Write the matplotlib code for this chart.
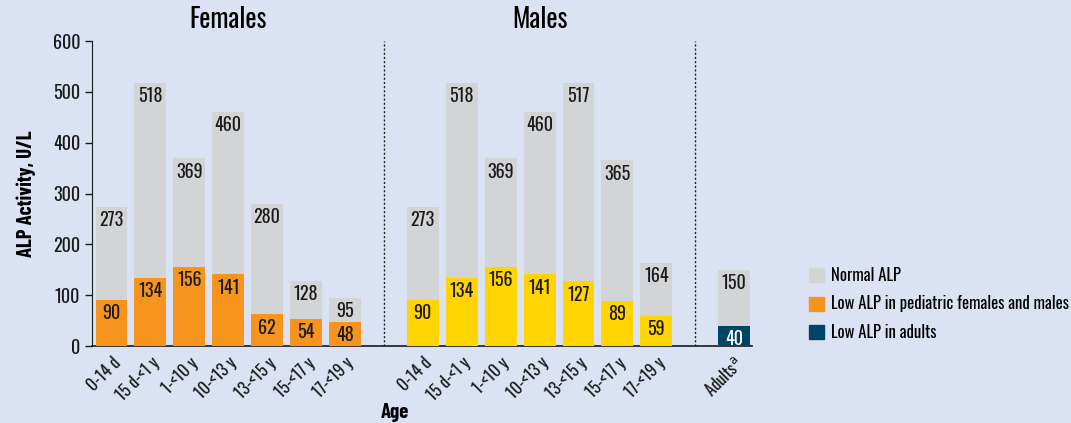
import matplotlib

matplotlib.use("Agg")
import matplotlib.pyplot as plt
from matplotlib.patches import Patch

plt.rcParams["font.family"] = ["Oswald", "Barlow Condensed", "DejaVu Sans"]
BOLD = ["Barlow Condensed", "Fira Sans Extra Condensed", "DejaVu Sans"]

age_groups = ["0-14 d", "15 d-<1 y", "1-<10 y", "10-<13 y", "13-<15 y", "15-<17 y", "17-<19 y"]
females_normal = [273, 518, 369, 460, 280, 128, 95]
females_low = [90, 134, 156, 141, 62, 54, 48]
males_normal = [273, 518, 369, 460, 517, 365, 164]
males_low = [90, 134, 156, 141, 127, 89, 59]
adults_label = "Adults$^{\\mathrm{a}}$"
adults_normal = [150]
adults_low = [40]

BG = "#dbe2f3"
GREY = "#d3d4d6"
ORANGE = "#f7941d"
YELLOW = "#ffd400"
NAVY = "#004466"
INK = "#1a1a1a"

fig = plt.figure(figsize=(10.71, 4.23), dpi=100, facecolor=BG)
ax = fig.add_axes([0.0859, 0.182, 0.616, 0.721], facecolor=BG)

xf = list(range(0, 7))
xm = list(range(8, 15))
xa = [16]
w = 0.82


def draw(xs, normal, low, color, txtcolor=INK):
    ax.bar(xs, normal, width=w, color=GREY, zorder=2)
    ax.bar(xs, low, width=w, color=color, zorder=3)
    for x, n, l in zip(xs, normal, low):
        ax.annotate(str(n), (x, n), xytext=(0, -3), textcoords="offset points",
                    ha="center", va="top", fontsize=13, color=INK, zorder=4)
        ax.annotate(str(l), (x, l), xytext=(0, -3), textcoords="offset points",
                    ha="center", va="top", fontsize=13, color=txtcolor, zorder=4)


draw(xf, females_normal, females_low, ORANGE)
draw(xm, males_normal, males_low, YELLOW)
draw(xa, adults_normal, adults_low, NAVY, txtcolor="white")

for xd in (7, 15):
    ax.axvline(xd, color="#222222", lw=1.0, ls=(0, (1.5, 1.5)), zorder=1)

ax.set_xlim(-0.5, 16.45)
ax.set_ylim(0, 600)
ax.set_yticks(range(0, 601, 100))
ax.tick_params(axis="y", labelsize=13, length=5, width=1, colors=INK)
ax.set_xticks(xf + xm + xa)
ax.set_xticklabels(age_groups + age_groups + [adults_label], rotation=45, ha="right",
                   rotation_mode="anchor", fontsize=12, color=INK)
ax.tick_params(axis="x", length=0, pad=6)
for s in ("top", "right"):
    ax.spines[s].set_visible(False)
ax.spines["left"].set_color(INK)
ax.spines["bottom"].set_color(INK)
ax.spines["bottom"].set_linewidth(1.2)

ax.set_ylabel("ALP Activity, U/L", fontsize=15, fontweight="bold", family=BOLD, labelpad=12)
ax.text(3, 615, "Females", ha="center", va="bottom", fontsize=19)
ax.text(11, 615, "Males", ha="center", va="bottom", fontsize=19)
fig.text(395 / 1071, 1 - 412 / 423, "Age", ha="center", va="center", fontsize=15,
         fontweight="bold", family=BOLD)

handles = [Patch(color=GREY, label="Normal ALP"),
           Patch(color=ORANGE, label="Low ALP in pediatric females and males"),
           Patch(color=NAVY, label="Low ALP in adults")]
fig.legend(handles=handles, loc="upper left", bbox_to_anchor=(0.749, 0.385), frameon=False,
           fontsize=12, handlelength=0.9, handleheight=0.9, handletextpad=0.4, labelspacing=0.7,
           borderaxespad=0)

fig.savefig("out.png", dpi=100, facecolor=BG)
